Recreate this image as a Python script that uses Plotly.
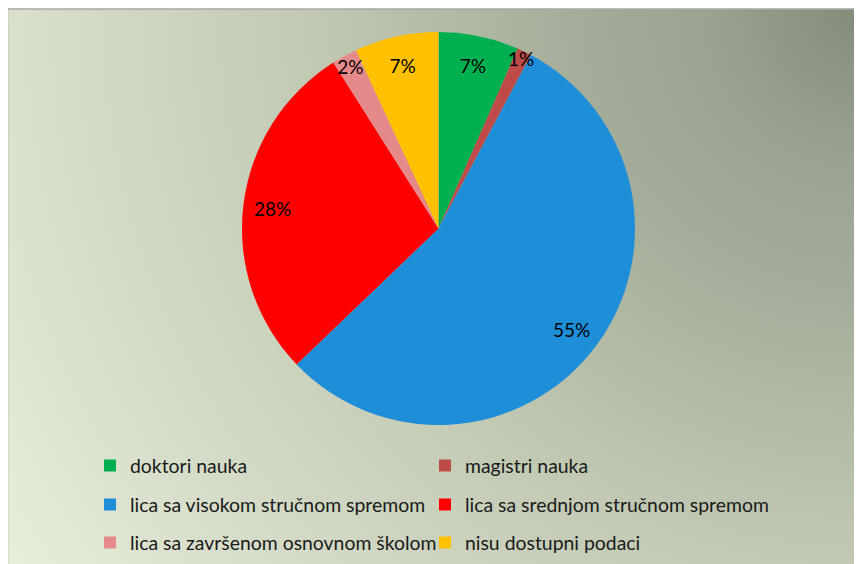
import base64
import plotly.graph_objects as go

# ---- data ----
categories = [
    "doktori nauka",
    "magistri nauka",
    "lica sa visokom stručnom spremom",
    "lica sa srednjom stručnom spremom",
    "lica sa završenom osnovnom školom",
    "nisu dostupni podaci",
]
values = [6.6, 1.2, 55.1, 28.2, 2.1, 6.9]
colors = ["#00b050", "#be4b48", "#1f8ed8", "#ff0000", "#e6898a", "#ffc000"]

# page has an 8px body margin, so figure coords = reference coords - 8
W, H = 854, 556
OFF = 8
FONT = "Lato"

# background gradient (radial from top-right corner)
bw, bh = W, H - 1
stops = [(0.0, "#838b79"), (0.15, "#9aa390"), (0.28, "#a4ad99"),
         (0.55, "#c2cab4"), (0.84, "#d9e1cc"), (1.0, "#e7efda")]
stop_xml = "".join(f'<stop offset="{o}" stop-color="{c}"/>' for o, c in stops)
svg = (f'<svg xmlns="http://www.w3.org/2000/svg" width="{bw}" height="{bh}" '
       f'viewBox="0 0 {bw} {bh}" preserveAspectRatio="none"><defs>'
       f'<radialGradient id="g" gradientUnits="userSpaceOnUse" cx="{bw}" cy="0" r="1020">'
       f'{stop_xml}</radialGradient></defs>'
       f'<rect width="{bw}" height="{bh}" fill="url(#g)"/></svg>')
bg_uri = "data:image/svg+xml;base64," + base64.b64encode(svg.encode()).decode()

fig = go.Figure()

cx, cy, r = 438.5 - OFF, 228.5 - OFF, 196.5
dom = dict(x=[(cx - r) / W, (cx + r) / W], y=[1 - (cy + r) / H, 1 - (cy - r) / H])

# coloured slices
fig.add_trace(go.Pie(
    labels=categories,
    values=values,
    marker=dict(colors=colors, line=dict(width=0)),
    sort=False,
    direction="clockwise",
    rotation=0,
    textinfo="none",
    showlegend=False,
    domain=dom,
))
# percentage labels placed in the outer ring
fig.add_trace(go.Pie(
    labels=categories,
    values=values,
    hole=0.7,
    marker=dict(colors=["rgba(0,0,0,0)"] * len(values), line=dict(width=0)),
    sort=False,
    direction="clockwise",
    rotation=0,
    texttemplate="%{percent:.0%}",
    textposition="inside",
    insidetextorientation="horizontal",
    textfont=dict(family=FONT, size=19, color="#000000"),
    hoverinfo="skip",
    showlegend=False,
    domain=dom,
))

# legend entries: one small legend per entry (3 rows x 2 columns)
row_y = [466 - OFF, 505 - OFF, 543 - OFF]
col_text_x = [130 - OFF, 465 - OFF]
layout_legends = {}
for i, (name, col) in enumerate(zip(categories, colors)):
    key = "legend" if i == 0 else f"legend{i + 1}"
    fig.add_trace(go.Scatter(
        x=[None], y=[None], mode="markers", name=name,
        marker=dict(symbol="square", size=12, color=col, line=dict(width=0)),
        legend=key, hoverinfo="skip",
    ))
    layout_legends[key] = dict(
        orientation="v", xanchor="left", yanchor="middle",
        x=(col_text_x[i % 2] - 40) / W, y=1 - row_y[i // 2] / H,
        bgcolor="rgba(0,0,0,0)", borderwidth=0,
        font=dict(family=FONT, size=19.4, color="#1a1a1a"),
    )

fig.update_layout(
    width=W, height=H,
    margin=dict(l=0, r=0, t=0, b=0),
    paper_bgcolor="#ffffff",
    plot_bgcolor="rgba(0,0,0,0)",
    xaxis=dict(visible=False),
    yaxis=dict(visible=False),
    uniformtext=dict(minsize=19, mode="show"),
    images=[dict(source=bg_uri, xref="paper", yref="paper",
                 x=0, y=1 - 1 / H, sizex=1, sizey=bh / H,
                 xanchor="left", yanchor="top", sizing="stretch", layer="below")],
    shapes=[dict(type="rect", xref="paper", yref="paper",
                 x0=-0.5 / W, x1=1.02, y0=-0.02, y1=1 - 1 / H,
                 line=dict(color="#a6a6a6", width=1.5), fillcolor="rgba(0,0,0,0)",
                 layer="above")],
    **layout_legends,
)

fig.write_html("out.html")
